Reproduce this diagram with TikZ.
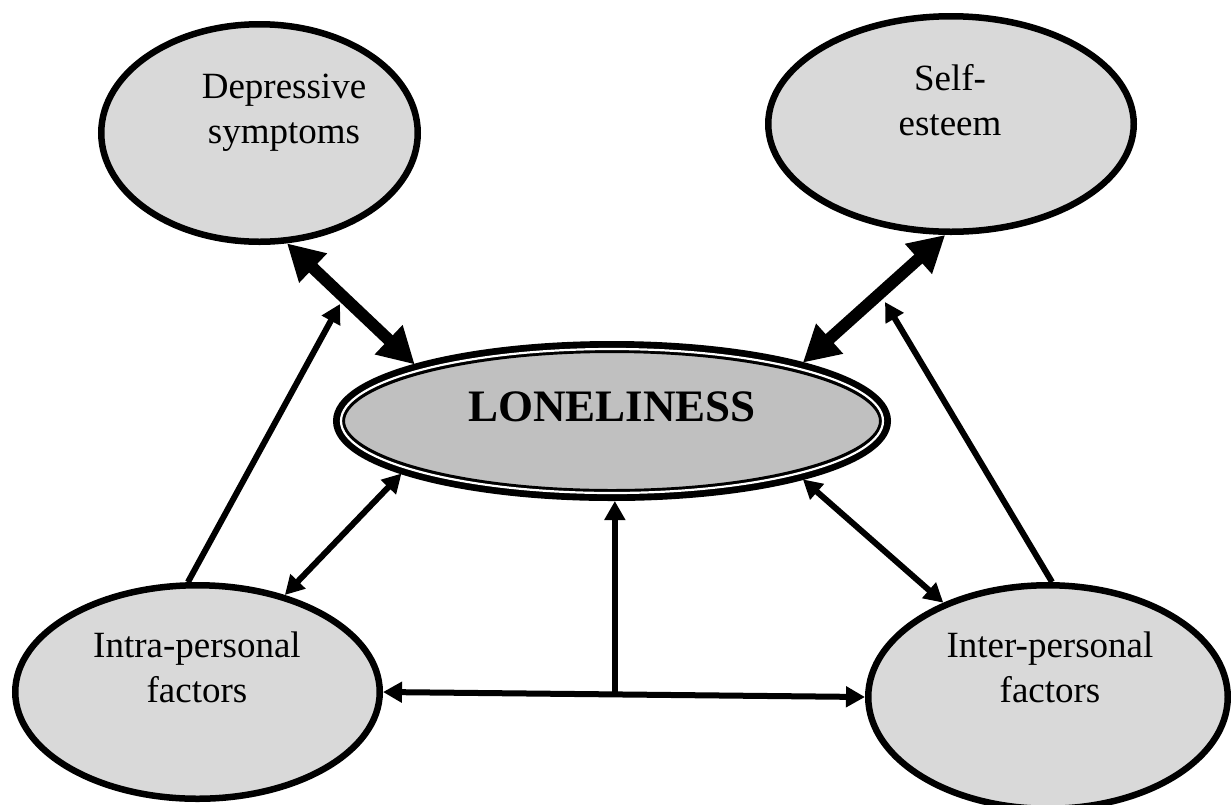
\documentclass[tikz,border=0pt]{standalone}
\usepackage{fontspec}
\setmainfont{Liberation Serif}
\usetikzlibrary{arrows.meta,shapes.geometric}
\definecolor{ellfill}{HTML}{D9D9D9}
\definecolor{lonfill}{HTML}{C0C0C0}
\begin{document}
\begin{tikzpicture}[x=1pt,y=-1pt,
  bub/.style={ellipse, draw=black, fill=ellfill, line width=6.5pt, inner sep=0pt},
  lonbub/.style={ellipse, draw=black, fill=lonfill, line width=12pt, inner sep=0pt},
  lbl/.style={align=center, font=\fontsize{37}{45}\selectfont, inner sep=0pt},
  bigarrow/.style={line width=12pt, {Triangle[length=36pt,width=38pt]}-{Triangle[length=36pt,width=38pt]}},
  thinline/.style={line width=6pt},
  onetip/.style={-{Triangle[length=19pt,width=20pt]}},
  twotips/.style={{Triangle[length=19pt,width=20pt]}-{Triangle[length=19pt,width=20pt]}}]
\useasboundingbox (0,0) rectangle (1231,804);
\clip (0,0) rectangle (1231,804);
\fill[white] (0,0) rectangle (1231,804);

% bubbles
\node[bub, minimum width=316.5pt, minimum height=217.5pt] (dep) at (259.5,133) {};
\node[bub, minimum width=365.5pt, minimum height=215.5pt] (self) at (951,124) {};
\node[bub, minimum width=364.5pt, minimum height=213.5pt] (intra) at (197.5,692) {};
\node[bub, minimum width=359.5pt, minimum height=223.5pt] (inter) at (1048,697) {};
\node[lonbub, minimum width=546pt, minimum height=148pt] (lon) at (612,421) {};
\draw[white, line width=2.2pt] (lon.center) ellipse [x radius=271pt, y radius=72pt];

% texts
\node[lbl] (deptxt) at (284,113) {Depressive\\symptoms};
\node[lbl] (selftxt) at (950,100) {Self-\\esteem};
\node[lbl] (intratxt) at (197,667) {Intra-personal\\factors};
\node[lbl] (intertxt) at (1050,667) {Inter-personal\\factors};
\node[font=\fontsize{45}{54}\selectfont\bfseries, inner sep=0pt] (lontxt) at (612,407) {LONELINESS};

% connectors
\draw[bigarrow] (dep.-76) -- (lon.164);
\draw[bigarrow] (self.-93) -- (lon.17);
\coordinate (m1) at (340,304);
\coordinate (m2) at (885,302);
\draw[thinline,onetip] (intra.95) -- (m1);
\draw[thinline,onetip] (inter.88) -- (m2);
\draw[thinline,twotips] (lon.-166) -- (intra.48);
\draw[thinline,twotips] (lon.-17) -- (inter.138);
\draw[thinline,twotips] (intra.0) -- (inter.180) coordinate[pos=0.481] (j);
\draw[thinline,onetip] (j) -- (j |- lon.south);
\end{tikzpicture}
\end{document}
